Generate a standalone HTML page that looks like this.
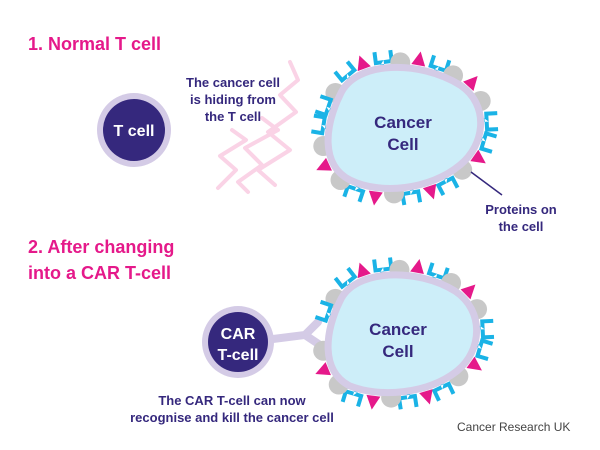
<!DOCTYPE html>
<html><head><meta charset="utf-8"><style>
html,body{margin:0;padding:0;background:#fff}
svg{display:block}
text{font-family:"Liberation Sans",sans-serif}
</style></head><body>
<svg id="s" width="600" height="450" viewBox="0 0 600 450" xmlns="http://www.w3.org/2000/svg">
<text x="28" y="50" font-size="18" fill="#e5198a" font-weight="bold">1. Normal T cell</text>
<text x="28" y="253" font-size="18" fill="#e5198a" font-weight="bold">2. After changing</text>
<text x="28" y="279" font-size="18" fill="#e5198a" font-weight="bold">into a CAR T-cell</text>
<g fill="none" stroke="#fad3e6" stroke-width="4" stroke-linejoin="round" stroke-linecap="round">
<path d="M290,62 L298,80 L280,95 L296,112 L268,132 L290,150 L258,170 L275,185"/>
<path d="M262,118 L278,130 L245,148 L262,165 L238,182 L248,192"/>
<path d="M232,130 L246,140 L220,156 L236,170 L218,188"/>
</g>
<text text-anchor="middle" font-size="13" fill="#35287d" font-weight="bold"><tspan x="233" y="87">The cancer cell</tspan><tspan x="233" y="104">is hiding from</tspan><tspan x="233" y="121">the T cell</tspan></text>
<circle cx="134" cy="130" r="37" fill="#d4cbe6"/><circle cx="134" cy="130" r="31" fill="#35287d"/>
<text x="134" y="136" text-anchor="middle" font-size="16" fill="#fff" font-weight="bold">T cell</text>
<g id="p1"></g>
<path id="c1" d="M340,95 C355,60 420,60 460,85 C490,105 485,145 460,165 C430,190 380,195 350,180 C320,165 325,125 340,95 Z" fill="#cdeef9" stroke="#d4cbe6" stroke-width="7"/>
<text text-anchor="middle" font-size="17" fill="#35287d" font-weight="bold"><tspan x="403" y="128">Cancer</tspan><tspan x="403" y="150">Cell</tspan></text>
<line x1="471" y1="172" x2="502" y2="195" stroke="#35287d" stroke-width="1.5"/>
<text text-anchor="middle" font-size="13" fill="#35287d" font-weight="bold"><tspan x="521" y="214">Proteins on</tspan><tspan x="521" y="231">the cell</tspan></text>
<path d="M265,340 L305,335 L318,322 M305,335 L320,345" stroke="#d4cbe6" stroke-width="8" fill="none" stroke-linecap="round"/>
<circle cx="238" cy="342" r="36" fill="#d4cbe6"/><circle cx="238" cy="342" r="30" fill="#35287d"/>
<text text-anchor="middle" font-size="16" fill="#fff" font-weight="bold"><tspan x="238" y="339">CAR</tspan><tspan x="238" y="360">T-cell</tspan></text>
<g id="p2"></g>
<path id="c2" transform="translate(0,206)" d="M340,95 C355,62 418,62 455,85 C485,105 482,145 457,165 C428,188 380,192 350,180 C320,165 325,125 340,95 Z" fill="#cdeef9" stroke="#d4cbe6" stroke-width="7"/>
<text text-anchor="middle" font-size="17" fill="#35287d" font-weight="bold"><tspan x="398" y="335">Cancer</tspan><tspan x="398" y="357">Cell</tspan></text>
<text text-anchor="middle" font-size="13" fill="#35287d" font-weight="bold"><tspan x="232" y="405">The CAR T-cell can now</tspan><tspan x="232" y="422">recognise and kill the cancer cell</tspan></text>
<text x="457" y="431" font-size="12" fill="#444">Cancer Research UK</text>
</svg>
<script>
var NS="http://www.w3.org/2000/svg";
function place(pid,gid,dy,skip){
 var p=document.getElementById(pid),g=document.getElementById(gid);
 var L=p.getTotalLength(),n=25,types=["g","c","t","c","g","t","c","g","t","g","c","c","t"];
 for(var i=0;i<n;i++){
  var l=L*i/n,a=p.getPointAtLength(l),b=p.getPointAtLength((l+1)%L);
  var ang=Math.atan2(b.y-a.y,b.x-a.x);
  var nx=Math.sin(ang),ny=-Math.cos(ang);
  var x=a.x+nx*3,y=a.y+dy+ny*3;
  if(skip&&skip(x,y))continue;
  var t=types[i%types.length],e;
  if(t=="g"){e=document.createElementNS(NS,"circle");e.setAttribute("r","10");e.setAttribute("cx",x+nx*2);e.setAttribute("cy",y+ny*2);e.setAttribute("fill","#c8c8c8");}
  else{
   e=document.createElementNS(NS,"path");
   e.setAttribute("transform","translate("+x+","+y+") rotate("+(ang*180/Math.PI)+")");
   if(t=="t"){e.setAttribute("d","M-7,-1 L7,-1 L0,-15 Z");e.setAttribute("fill","#e5198a");}
   else{e.setAttribute("d","M-2,0 h4 v-4 h4.5 v-10 h4 v14 h-21 v-14 h4 v10 h4.5 z");e.setAttribute("transform","translate("+x+","+y+") rotate("+(ang*180/Math.PI)+") translate(0,-1)");
    e.setAttribute("d","M-2,1 h4 v-5 h6 v-9 h4 v13 h-20 v-13 h4 v9 h6 z");e.setAttribute("fill","#1ab3e6");}
  }
  g.appendChild(e);
 }
}
place("c1","p1",0);
place("c2","p2",206,function(x,y){return x<335&&y>330&&y<350;});
</script>
</body></html>
